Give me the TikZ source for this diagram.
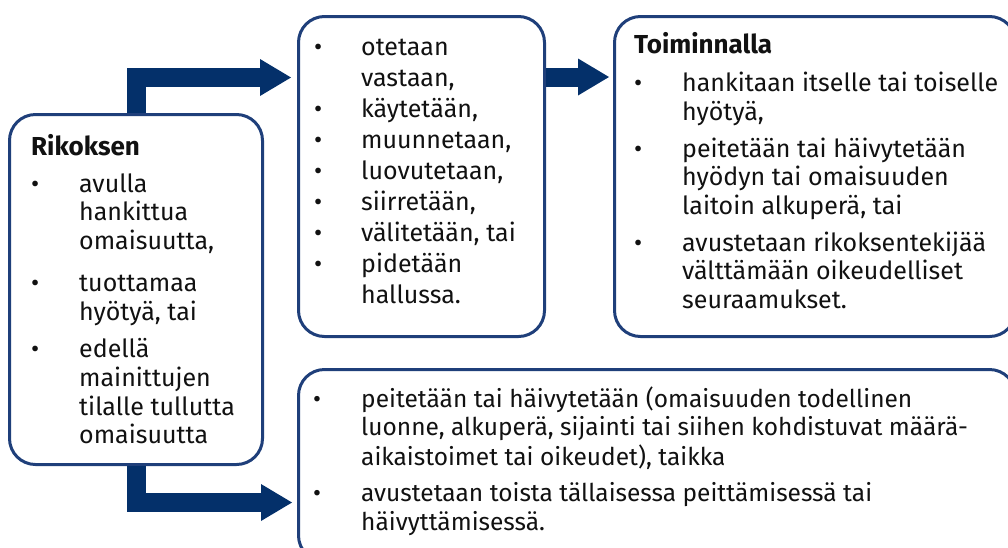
\documentclass[tikz,border=0pt]{standalone}
\usepackage{fontspec}
\setmainfont{Fira Sans}
\usetikzlibrary{calc,arrows.meta}
\definecolor{edge}{HTML}{1F3F7A}
\definecolor{navy}{HTML}{04306A}
\definecolor{ink}{HTML}{111111}
\newcommand{\blt}{\textbullet}
\newcommand{\hd}[1]{{\fontsize{26}{28.7}\selectfont\bfseries #1}}
\tikzset{
  box/.style={draw=edge, line width=3pt, rounded corners=26pt, inner sep=0pt, anchor=north west},
  flow/.style={draw=navy, line width=19pt, line join=miter,
    -{Triangle[length=31pt, width=37pt, line width=0pt]}},
  lab/.style={text=ink, inner sep=0pt, anchor=base west, align=left},
  labf/.style={lab, font=\fontsize{25}{28.7}\selectfont},
}
\begin{document}
\begin{tikzpicture}[x=1pt, y=-1pt]
  \useasboundingbox (0,0) rectangle (1008,547);
  \clip (0,0) rectangle (1008,547);
  % boxes
  \node[box, minimum width=253pt, minimum height=350pt] (rik) at (8,113) {};
  \node[box, minimum width=246pt, minimum height=320pt] (tek) at (297,15) {};
  \node[box, minimum width=401pt, minimum height=320pt] (toi) at (613,15) {};
  \node[box, minimum width=717pt, minimum height=192pt] (pii) at (297,368) {};
  % texts
  \node[labf] (rikt) at (31,155) {\begin{tabular}[t]{@{}p{48pt}@{}l@{}}
    \multicolumn{2}{@{}l@{}}{\hd{Rikoksen}}\\[8.5pt]
    \blt & avulla\\ & hankittua\\ & omaisuutta,\\[13.5pt]
    \blt & tuottamaa\\ & hyötyä, tai\\[8.5pt]
    \blt & edellä\\ & mainittujen\\ & tilalle tullutta\\ & omaisuutta
  \end{tabular}};
  \node[lab, font=\fontsize{25}{31}\selectfont] (tekt) at (314,55) {\begin{tabular}[t]{@{}p{47pt}@{}l@{}}
    \blt & otetaan\\ & vastaan,\\
    \blt & käytetään,\\
    \blt & muunnetaan,\\
    \blt & luovutetaan,\\
    \blt & siirretään,\\
    \blt & välitetään, tai\\
    \blt & pidetään\\ & hallussa.
  \end{tabular}};
  \node[labf] (toit) at (634,53) {\begin{tabular}[t]{@{}p{48pt}@{}l@{}}
    \multicolumn{2}{@{}l@{}}{\hd{Toiminnalla}}\\[10pt]
    \blt & hankitaan itselle tai toiselle\\ & hyötyä,\\[8pt]
    \blt & peitetään tai häivytetään\\ & hyödyn tai omaisuuden\\ & laitoin alkuperä, tai\\[8pt]
    \blt & avustetaan rikoksentekijää\\ & välttämään oikeudelliset\\ & seuraamukset.
  \end{tabular}};
  \node[lab, font=\fontsize{24.5}{28.7}\selectfont] (piit) at (313,407) {\begin{tabular}[t]{@{}p{48pt}@{}l@{}}
    \blt & peitetään tai häivytetään (omaisuuden todellinen\\
    & luonne, alkuperä, sijainti tai siihen kohdistuvat määrä-\\
    & aikaistoimet tai oikeudet), taikka\\[8pt]
    \blt & avustetaan toista tällaisessa peittämisessä tai\\
    & häivyttämisessä.
  \end{tabular}};
  % arrows
  \draw[flow, shorten >=6pt] (rik.north) |- ($(tek.north west)+(0,62.5)$);
  \draw[flow, shorten >=4pt] ($(tek.north east)+(0,62)$) -- ($(toi.north west)+(0,62)$);
  \draw[flow, shorten >=5pt] (rik.south) |- ($(pii.north west)+(0,134.5)$);
\end{tikzpicture}
\end{document}
